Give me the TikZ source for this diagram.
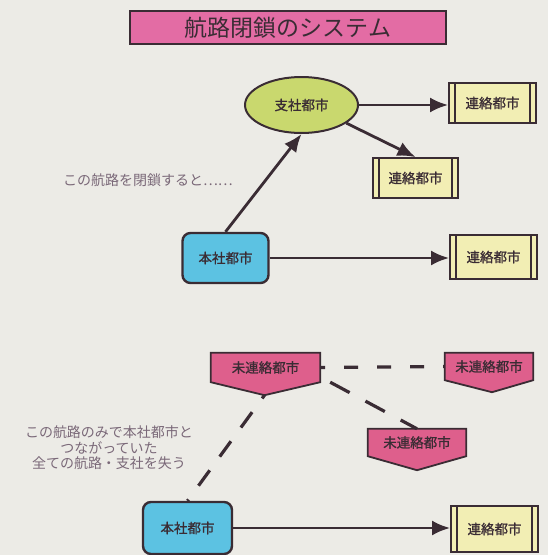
\documentclass[tikz,border=0pt]{standalone}
\usepackage{fontspec}
\newfontfamily\jp{Noto Sans CJK JP}
\newfontfamily\jpb{Noto Sans CJK JP}[FakeBold=1.2]
\usetikzlibrary{arrows.meta,calc,shapes.geometric}
\pgfdeclarelayer{bg}
\pgfsetlayers{bg,main}
\definecolor{bgc}{HTML}{ECEBE6}
\definecolor{ink}{HTML}{3A2C34}
\definecolor{titlepink}{HTML}{E36CA4}
\definecolor{pentpink}{HTML}{DE5F8C}
\definecolor{cyanbox}{HTML}{5CC2E2}
\definecolor{paleyel}{HTML}{F2EEB4}
\definecolor{lime}{HTML}{C9D86E}
\definecolor{note}{HTML}{7A6878}
\begin{document}
\begin{tikzpicture}[x=1pt,y=-1pt,
  font=\jpb\fontsize{13.5}{16}\selectfont, text=ink,
  link/.style={draw=ink, line width=2.8pt, -{Latex[length=18pt,width=15pt]}},
  dashlink/.style={draw=ink, line width=3.2pt},
  relay/.style={draw=ink, line width=1.8pt, fill=paleyel, inner sep=0pt,
    path picture={\draw[draw=ink, line width=1.3pt]
      ([xshift=6pt]path picture bounding box.north west) -- ([xshift=6pt]path picture bounding box.south west)
      ([xshift=-6pt]path picture bounding box.north east) -- ([xshift=-6pt]path picture bounding box.south east);}},
  honsha/.style={rectangle, rounded corners=8pt, draw=ink, line width=2.4pt, fill=cyanbox, inner sep=0pt},
  branch/.style={ellipse, draw=ink, line width=2pt, fill=lime, inner sep=0pt},
  unlinked/.style={rectangle, inner sep=0pt},
  pentfill/.style={fill=pentpink, draw=ink, line width=1.8pt, line join=miter},
  notetext/.style={text=note, font=\jp\fontsize{14}{15.5}\selectfont, align=center, inner sep=0pt}
]
\useasboundingbox (0,0) rectangle (548,555);

% title
\node[draw=ink, line width=1.5pt, fill=titlepink, minimum width=316pt, minimum height=33pt,
      inner sep=0pt, font=\jp\fontsize{23}{26}\selectfont] (title) at (288,27.5) {航路閉鎖のシステム};

% upper diagram
\node[branch, minimum width=113pt, minimum height=56pt] (sh) at (301.5,105) {支社都市};
\node[relay, minimum width=87pt, minimum height=40pt] (r1) at (492.5,103) {連絡都市};
\node[relay, minimum width=85pt, minimum height=40pt] (r2) at (415.5,178) {連絡都市};
\node[honsha, minimum width=86pt, minimum height=50pt] (h1) at (225.5,258) {本社都市};
\node[relay, minimum width=87pt, minimum height=44pt] (r3) at (493.5,257) {連絡都市};
\node[notetext] (t1) at (148,180) {この航路を閉鎖すると……};

\draw[link] (h1.north) -- (sh.south);
\draw[link] (sh.east) -- (sh.east -| r1.west);
\draw[link] (sh.-22) -- (r2.north);
\draw[link] (h1.east) -- (h1.east -| r3.west);

% lower diagram
\node[unlinked, minimum width=109pt, minimum height=29pt] (u1) at (265.5,367.5) {未連絡都市};
\node[unlinked, minimum width=88pt, minimum height=27pt] (u2) at (489,366.5) {未連絡都市};
\node[unlinked, minimum width=98pt, minimum height=27pt] (u3) at (417,442.5) {未連絡都市};
\node[honsha, minimum width=89pt, minimum height=52pt] (h2) at (187.5,528) {本社都市};
\node[relay, minimum width=87pt, minimum height=46pt] (r4) at (494.5,529) {連絡都市};
\node[notetext] (t2) at (109,448) {この航路のみで本社都市と\\つながっていた\\全ての航路・支社を失う};

\coordinate (u1tip) at ($(u1.south)+(-1,13)$);
\coordinate (u1out) at ($(u1.south east)+(10,0)$);

\begin{pgfonlayer}{bg}
  \fill[bgc] (0,0) rectangle (548,555);
  \draw[pentfill] (u1.north west) -- (u1.north east) -- (u1.south east) -- (u1tip) -- (u1.south west) -- cycle;
  \draw[pentfill] (u2.north west) -- (u2.north east) -- (u2.south east) -- ($(u2.south)+(3,12)$) -- (u2.south west) -- cycle;
  \draw[pentfill] (u3.north west) -- (u3.north east) -- (u3.south east) -- ($(u3.south)+(0,14)$) -- (u3.south west) -- cycle;
\end{pgfonlayer}

\draw[dashlink, dash pattern=on 14pt off 19pt, dash phase=9pt] (u1.east) -- (u2.west);
\draw[dashlink, dash pattern=on 22pt off 18pt] (u1out) -- (u3.north);
\draw[dashlink, dash pattern=on 19pt off 17pt, dash phase=15pt] (u1tip) -- (h2.north);
\draw[link] (h2.east) -- (h2.east -| r4.west);
\end{tikzpicture}
\end{document}
